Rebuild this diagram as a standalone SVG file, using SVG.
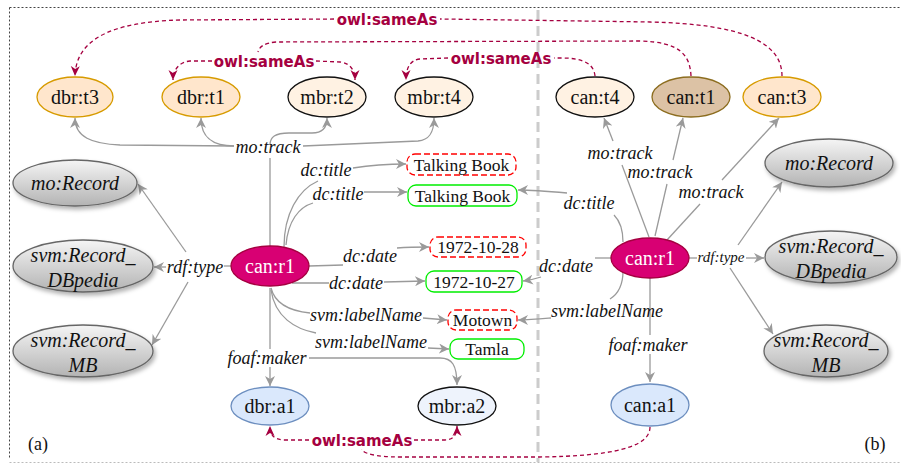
<svg xmlns="http://www.w3.org/2000/svg" width="901" height="464" viewBox="0 0 901 464">
  <style>
    .node { font-family: "Liberation Serif", "Times New Roman", serif; font-size: 20px; text-anchor: middle; fill: #111; }
    .cls { font-family: "Liberation Serif", "Times New Roman", serif; font-size: 20px; font-style: italic; text-anchor: middle; fill: #111; }
    .lit { font-family: "Liberation Serif", "Times New Roman", serif; font-size: 17.5px; text-anchor: middle; fill: #111; }
    .lbl { font-family: "Liberation Serif", "Times New Roman", serif; font-size: 18px; font-style: italic; text-anchor: middle; fill: #111; }
    .lbls { font-family: "Liberation Serif", "Times New Roman", serif; font-size: 15px; font-style: italic; text-anchor: middle; fill: #111; }
    .same { font-family: "DejaVu Sans", "Liberation Sans", sans-serif; font-size: 15px; font-weight: bold; text-anchor: middle; fill: #a50040; }
    .panel { font-family: "Liberation Serif", "Times New Roman", serif; font-size: 18px; text-anchor: middle; fill: #111; }
    .e { fill: none; stroke: #9a9a9a; stroke-width: 1.3; }
    .ea { fill: none; stroke: #9a9a9a; stroke-width: 1.3; marker-end: url(#grayArrow); }
    .s { fill: none; stroke: #a50040; stroke-width: 1.3; stroke-dasharray: 4 3; }
    .sa { fill: none; stroke: #a50040; stroke-width: 1.3; stroke-dasharray: 4 3; marker-end: url(#sameArrow); }
    .dbr { fill: #ffe6cc; stroke: #d79b00; stroke-width: 1.3; }
    .mbr { fill: #fff2e3; stroke: #111; stroke-width: 1.3; }
    .ct1 { fill: #dcc2a5; stroke: #8c6d1f; stroke-width: 1.3; }
    .res { fill: #d80073; stroke: #a50040; stroke-width: 1.3; }
    .art { fill: #dae8fc; stroke: #6c8ebf; stroke-width: 1.3; }
    .artm { fill: #eef3fc; stroke: #111; stroke-width: 1.3; }
    .gray { fill: url(#grayFill); stroke: #666; stroke-width: 1.3; filter: url(#shadow); }
    .red { fill: #fff; stroke: #ff0000; stroke-width: 1.3; stroke-dasharray: 6 3; }
    .green { fill: #fff; stroke: #00ee00; stroke-width: 1.3; }
  </style>
  <defs>
    <linearGradient id="grayFill" x1="0" y1="0" x2="0" y2="1">
      <stop offset="0" stop-color="#f5f5f5"/>
      <stop offset="1" stop-color="#b3b3b3"/>
    </linearGradient>
    <filter id="shadow" x="-20%" y="-30%" width="140%" height="170%">
      <feDropShadow dx="2" dy="3" stdDeviation="2" flood-color="#000" flood-opacity="0.3"/>
    </filter>
    <marker id="grayArrow" markerUnits="userSpaceOnUse" markerWidth="11" markerHeight="10" refX="10" refY="5" orient="auto">
      <path d="M0,0 L10,5 L0,10 L3,5 z" fill="#9a9a9a"/>
    </marker>
    <marker id="sameArrow" markerUnits="userSpaceOnUse" markerWidth="11" markerHeight="10" refX="10" refY="5" orient="auto">
      <path d="M0,0.5 L10,5 L0,9.5 L3,5 z" fill="#a50040"/>
    </marker>
  </defs>

  <rect width="901" height="464" fill="#fff"/>

  <!-- frame and panel divider -->
  <g id="frame">
    <line x1="9.5" y1="7.5" x2="900" y2="7.5" stroke="#444" stroke-width="1" stroke-dasharray="2 2"/>
    <line x1="9.5" y1="7.5" x2="9.5" y2="458" stroke="#444" stroke-width="1" stroke-dasharray="2 2"/>
    <line x1="9.5" y1="462.5" x2="900" y2="462.5" stroke="#bbb" stroke-width="1" stroke-dasharray="2 2"/>
    <line x1="538" y1="10" x2="538" y2="462" stroke="#cccccc" stroke-width="3" stroke-dasharray="10 6"/>
  </g>

  <g id="connectors">
    <!-- panel (a): mo:track -->
    <path class="e" d="M270,246 L270,158"/>
    <path class="ea" d="M234,146 L120,145 C92,144 75,137 75,118"/>
    <path class="ea" d="M234,146 C214,146 201,139 201,118"/>
    <path class="ea" d="M270,145 C270,137 275,133 289,133 L312,133 C322,133 327,128 327,118"/>
    <path class="ea" d="M303,146 L418,141 C429,140 434,133 434,118"/>
    <!-- panel (a): rdf:type -->
    <path class="e" d="M231,266 L224,266"/>
    <path class="ea" d="M166,267 L154,267"/>
    <path class="ea" d="M186,252 L138,184"/>
    <path class="ea" d="M188,282 L152,345"/>
    <!-- panel (a): dc:title -->
    <path class="e" d="M284,247 C284,214 298,190 318,181"/>
    <path class="ea" d="M353,168 C372,165 388,164 406,164"/>
    <path class="e" d="M286,245 C288,221 299,207 313,203"/>
    <path class="ea" d="M364,192 L407,192"/>
    <!-- panel (a): dc:date -->
    <path class="e" d="M309,266 L343,265"/>
    <path class="ea" d="M397,248 C410,247 418,247 429,247"/>
    <path class="e" d="M292,283 L329,283"/>
    <path class="ea" d="M384,282 L425,281"/>
    <!-- panel (a): svm:labelName -->
    <path class="e" d="M271,288 C275,304 290,311 310,313"/>
    <path class="ea" d="M423,318 L447,320"/>
    <path class="e" d="M271,290 C275,317 295,329 316,333"/>
    <path class="ea" d="M428,348 L449,349"/>
    <!-- panel (a): foaf:maker -->
    <path class="e" d="M270,288 L270,349"/>
    <path class="ea" d="M270,367 L270,386"/>
    <path class="ea" d="M309,358 L440,358 C452,358 457,365 457,385"/>

    <!-- panel (b): mo:track -->
    <path class="e" d="M649,237 L622,165"/>
    <path class="ea" d="M613,141 L604,118"/>
    <path class="e" d="M655,236 L667,184"/>
    <path class="ea" d="M673,160 L683,118"/>
    <path class="e" d="M667,240 L700,204"/>
    <path class="ea" d="M722,180 L779,118"/>
    <!-- panel (b): rdf:type -->
    <path class="e" d="M689,258 L697,258"/>
    <path class="ea" d="M746,258 L764,258"/>
    <path class="ea" d="M738,245 L782,182"/>
    <path class="ea" d="M730,268 L773,334"/>
    <!-- panel (b): dc:title, dc:date, svm:labelName -->
    <path class="e" d="M623,242 C623,228 619,220 614,215"/>
    <path class="ea" d="M567,193 C545,191 530,190 518,190"/>
    <path class="e" d="M611,258 L595,258"/>
    <path class="ea" d="M541,277 C535,279 530,280 523,281"/>
    <path class="e" d="M623,271 C623,285 618,294 610,299"/>
    <path class="ea" d="M551,318 C540,319 530,320 518,320"/>
    <!-- panel (b): foaf:maker -->
    <path class="e" d="M650,278 L650,335"/>
    <path class="ea" d="M650,354 L650,382"/>

    <!-- owl:sameAs links -->
    <path class="s" d="M782,76 C782,42 742,24 650,22 L440,19"/>
    <path class="sa" d="M334,19 L180,20 C110,22 76,40 75,76"/>
    <path class="s" d="M691,76 C690,55 680,42 640,41 L276,42 C264,43 259,47 258,52"/>
    <path class="sa" d="M212,61 L190,61 C179,62 173,70 173,80"/>
    <path class="sa" d="M316,61 L340,62 C350,63 355,70 355,80"/>
    <path class="s" d="M595,76 C594,65 585,58 562,58 L554,58"/>
    <path class="sa" d="M448,58 L420,59 C410,60 406,68 406,80"/>
    <path class="s" d="M650,427 C650,448 610,456 540,457 L400,457 C375,457 362,453 362,449"/>
    <path class="sa" d="M309,440 L285,440 C274,440 270,435 270,426"/>
    <path class="sa" d="M414,440 L445,440 C453,440 457,435 457,426"/>
  </g>

  <!-- edge labels -->
  <g id="edge-labels">
    <text class="lbl" x="268" y="153">mo:track</text>
    <text class="lbl" x="195" y="273">rdf:type</text>
    <text class="lbl" x="326" y="176">dc:title</text>
    <text class="lbl" x="338" y="200">dc:title</text>
    <text class="lbl" x="370" y="262">dc:date</text>
    <text class="lbl" x="356" y="289">dc:date</text>
    <text class="lbl" x="366" y="321">svm:labelName</text>
    <text class="lbl" x="371" y="348">svm:labelName</text>
    <text class="lbl" x="267" y="364">foaf:maker</text>
    <text class="lbl" x="620" y="159">mo:track</text>
    <text class="lbl" x="660" y="178">mo:track</text>
    <text class="lbl" x="711" y="198">mo:track</text>
    <text class="lbls" x="721" y="262">rdf:type</text>
    <text class="lbl" x="589" y="209">dc:title</text>
    <text class="lbl" x="566" y="272">dc:date</text>
    <text class="lbl" x="607" y="317">svm:labelName</text>
    <text class="lbl" x="648" y="351">foaf:maker</text>
    <text class="same" x="387" y="25">owl:sameAs</text>
    <text class="same" x="264" y="67">owl:sameAs</text>
    <text class="same" x="501" y="64">owl:sameAs</text>
    <text class="same" x="362" y="446">owl:sameAs</text>
  </g>

  <!-- panel (a) nodes -->
  <g id="dbr-t3"><ellipse class="dbr" cx="75" cy="97" rx="38" ry="20"/><text class="node" x="75" y="104">dbr:t3</text></g>
  <g id="dbr-t1"><ellipse class="dbr" cx="201" cy="97" rx="39" ry="20"/><text class="node" x="201" y="104">dbr:t1</text></g>
  <g id="mbr-t2"><ellipse class="mbr" cx="327" cy="97" rx="39" ry="20"/><text class="node" x="327" y="104">mbr:t2</text></g>
  <g id="mbr-t4"><ellipse class="mbr" cx="434" cy="97" rx="39" ry="20"/><text class="node" x="434" y="104">mbr:t4</text></g>
  <g id="a-mo-record"><ellipse class="gray" cx="75" cy="183" rx="62" ry="23"/><text class="cls" x="75" y="190">mo:Record</text></g>
  <g id="a-record-dbpedia"><ellipse class="gray" cx="83" cy="266" rx="70" ry="26"/><text class="cls" x="83" y="262">svm:Record_</text><text class="cls" x="83" y="287">DBpedia</text></g>
  <g id="a-record-mb"><ellipse class="gray" cx="83" cy="351" rx="70" ry="26"/><text class="cls" x="83" y="347">svm:Record_</text><text class="cls" x="83" y="372">MB</text></g>
  <g id="a-can-r1"><ellipse class="res" cx="270" cy="266" rx="39" ry="20"/><text class="node" x="270" y="273" fill="#fff" style="fill:#fff">can:r1</text></g>
  <g id="title-red"><rect class="red" x="407" y="154" width="109" height="21" rx="8"/><text class="lit" x="461.5" y="170.5">Talking Book</text></g>
  <g id="title-green"><rect class="green" x="408" y="185" width="109" height="21" rx="8"/><text class="lit" x="462.5" y="201.5">Talking Book</text></g>
  <g id="date-red"><rect class="red" x="430" y="237" width="96" height="20" rx="8"/><text class="lit" x="478" y="253">1972-10-28</text></g>
  <g id="date-green"><rect class="green" x="426" y="271" width="96" height="21" rx="8"/><text class="lit" x="474" y="287.5">1972-10-27</text></g>
  <g id="label-red"><rect class="red" x="448" y="310" width="69" height="20" rx="8"/><text class="lit" x="482.5" y="326">Motown</text></g>
  <g id="label-green"><rect class="green" x="450" y="339" width="74" height="20" rx="8"/><text class="lit" x="487" y="355">Tamla</text></g>
  <g id="dbr-a1"><ellipse class="art" cx="270" cy="406" rx="39" ry="19"/><text class="node" x="270" y="413">dbr:a1</text></g>
  <g id="mbr-a2"><ellipse class="artm" cx="457" cy="406" rx="39" ry="19"/><text class="node" x="457" y="413">mbr:a2</text></g>

  <!-- panel (b) nodes -->
  <g id="can-t4"><ellipse class="mbr" cx="595" cy="97" rx="39" ry="20"/><text class="node" x="595" y="104">can:t4</text></g>
  <g id="can-t1"><ellipse class="ct1" cx="691" cy="97" rx="39" ry="20"/><text class="node" x="691" y="104">can:t1</text></g>
  <g id="can-t3"><ellipse class="dbr" cx="782" cy="97" rx="39" ry="20"/><text class="node" x="782" y="104">can:t3</text></g>
  <g id="b-can-r1"><ellipse class="res" cx="650" cy="258" rx="39" ry="20"/><text class="node" x="650" y="265" style="fill:#fff">can:r1</text></g>
  <g id="b-mo-record"><ellipse class="gray" cx="829" cy="163" rx="64" ry="24"/><text class="cls" x="829" y="170">mo:Record</text></g>
  <g id="b-record-dbpedia"><ellipse class="gray" cx="831" cy="257" rx="66" ry="26"/><text class="cls" x="831" y="253">svm:Record_</text><text class="cls" x="831" y="278">DBpedia</text></g>
  <g id="b-record-mb"><ellipse class="gray" cx="826" cy="351" rx="62" ry="26"/><text class="cls" x="826" y="347">svm:Record_</text><text class="cls" x="826" y="372">MB</text></g>
  <g id="can-a1"><ellipse class="art" cx="650" cy="405" rx="39" ry="21"/><text class="node" x="650" y="412">can:a1</text></g>

  <!-- panel captions -->
  <text class="panel" x="38" y="450">(a)</text>
  <text class="panel" x="875" y="450">(b)</text>
</svg>
